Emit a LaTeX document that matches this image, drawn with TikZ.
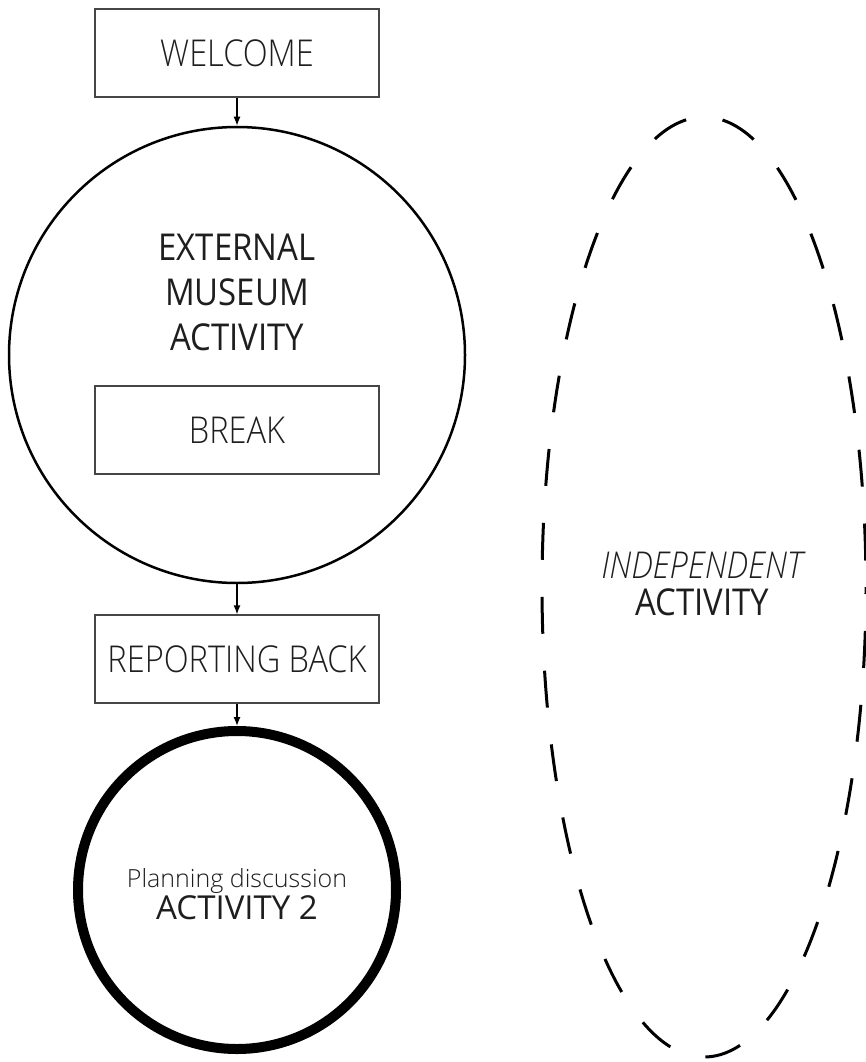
\documentclass[tikz,border=0pt]{standalone}
\usepackage{fontspec}
\setmainfont{Open Sans}
\newfontfamily\lightfont{Open Sans}[UprightFont=* Light, ItalicFont=* Light Italic]
\newfontfamily\narrowlight{Open Sans}[UprightFont=* Light, ItalicFont=* Light Italic, FakeStretch=0.88]
\newfontfamily\narrowfont{Open Sans}[FakeStretch=0.89]
\usepackage{tikz}
\usetikzlibrary{shapes.geometric, arrows.meta, positioning}
\definecolor{inkgray}{RGB}{30, 30, 30}
\definecolor{framegray}{RGB}{70, 70, 70}

\begin{document}
\begin{tikzpicture}[x=1pt, y=-1pt,
    stage/.style={rectangle, draw=framegray, line width=1.3pt, minimum width=284pt, minimum height=88pt, text=inkgray, font=\narrowlight\fontsize{37}{44}\selectfont},
    session/.style={circle, draw=black, line width=#1, inner sep=0pt},
    label/.style={text=inkgray, anchor=base, inner sep=0pt},
    arrow/.style={-{Latex[length=9pt, width=7pt]}, line width=1.3pt, black}
]
    \useasboundingbox (0,0) rectangle (866,1062);

    \node[stage] (welcome) at (237,53) {WELCOME};
    \node[session=2.5pt, minimum size=456pt] (museum) at (237,355) {};
    \node[text=inkgray, align=center, font=\narrowfont\fontsize{37}{45}\selectfont] (external) at (237,292) {EXTERNAL\\MUSEUM\\ACTIVITY};
    \node[stage] (break) at (237,430) {BREAK};
    \node[stage] (report) at (237,659) {REPORTING BACK};
    \node[session=10pt, minimum size=318pt] (planning) at (237,890) {};
    \node[label, font=\lightfont\fontsize{25}{30}\selectfont] (plantext) at (237,887) {Planning discussion};
    \node[label, font=\fontsize{33}{40}\selectfont] (act2) at (237,919) {ACTIVITY 2};

    % independent activity
    \node[ellipse, draw=black, line width=3pt, dash pattern=on 37pt off 37pt, dash phase=47.5pt, minimum width=324pt, minimum height=940pt] (independent) at (704,587) {};
    \node[label, font=\narrowlight\itshape\fontsize{37}{44}\selectfont] (indtext) at (702,578) {INDEPENDENT};
    \node[label, font=\narrowfont\fontsize{37}{44}\selectfont] (acttext) at (702,615) {ACTIVITY};

    \draw[arrow] (welcome) -- (museum);
    \draw[arrow] (museum) -- (report);
    \draw[arrow] (report) -- (planning);
\end{tikzpicture}
\end{document}
